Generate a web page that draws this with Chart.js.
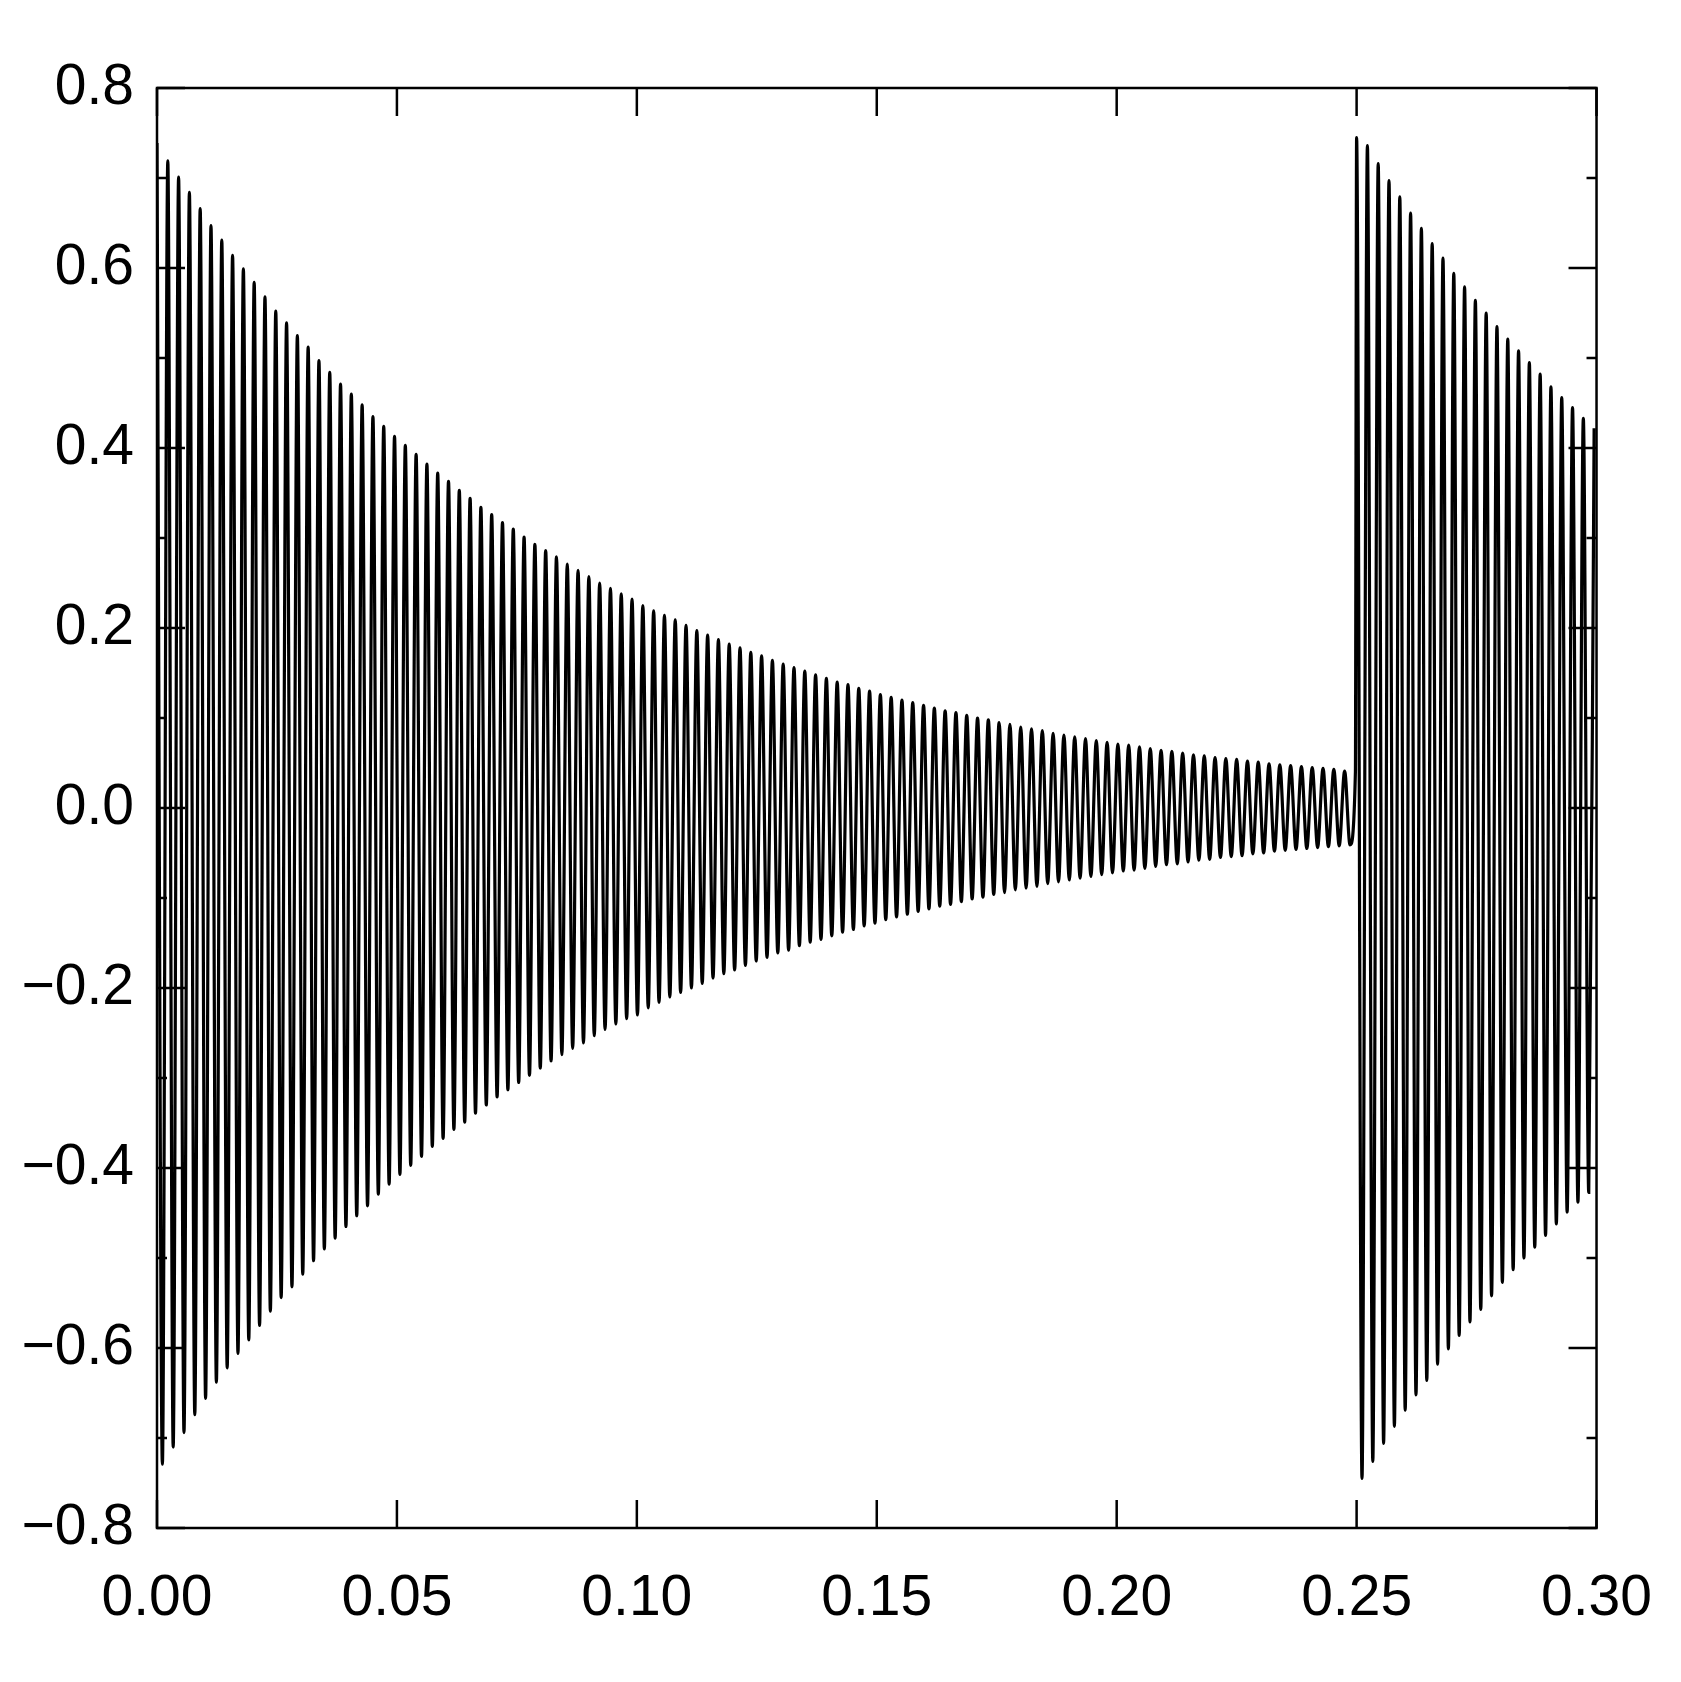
<!DOCTYPE html>
<html>
<head>
<meta charset="utf-8">
<script src="https://cdn.jsdelivr.net/npm/chart.js@4.4.1/dist/chart.umd.min.js"></script>
<style>
  html, body { margin: 0; padding: 0; background: #fff; }
  #wrap { width: 1681px; height: 1682px; position: relative; }
</style>
</head>
<body>
<div id="wrap"><canvas id="waveChart"></canvas></div>
<script>
// peak / trough values, one per cycle
const period = 0.00225; // seconds per cycle (about 444 Hz)
const seg1Start = 0;
const seg2Start = 0.25;

const peaks1 = [
  0.739, 0.719, 0.701, 0.684, 0.666, 0.647, 0.631, 0.614, 0.599, 0.584,
  0.568, 0.552, 0.539, 0.525, 0.512, 0.497, 0.484, 0.471, 0.460, 0.448,
  0.435, 0.424, 0.413, 0.403, 0.393, 0.382, 0.372, 0.363, 0.353, 0.344,
  0.334, 0.326, 0.317, 0.310, 0.301, 0.293, 0.286, 0.279, 0.271, 0.264,
  0.257, 0.250, 0.244, 0.238, 0.232, 0.225, 0.219, 0.214, 0.209, 0.203,
  0.197, 0.192, 0.187, 0.182, 0.178, 0.173, 0.169, 0.164, 0.160, 0.156,
  0.152, 0.148, 0.144, 0.140, 0.137, 0.133, 0.130, 0.126, 0.123, 0.120,
  0.117, 0.114, 0.111, 0.108, 0.106, 0.103, 0.100, 0.098, 0.095, 0.093,
  0.090, 0.088, 0.086, 0.083, 0.081, 0.079, 0.077, 0.075, 0.073, 0.071,
  0.070, 0.068, 0.066, 0.064, 0.063, 0.061, 0.059, 0.058, 0.056, 0.055,
  0.054, 0.052, 0.051, 0.049, 0.048, 0.047, 0.046, 0.045, 0.044, 0.043,
  0.041, 0.040
];
const troughs1 = [
  -0.729, -0.710, -0.694, -0.674, -0.656, -0.638, -0.622, -0.606, -0.591, -0.575,
  -0.559, -0.544, -0.532, -0.518, -0.503, -0.490, -0.478, -0.465, -0.453, -0.442,
  -0.429, -0.418, -0.407, -0.397, -0.387, -0.376, -0.367, -0.357, -0.349, -0.339,
  -0.330, -0.321, -0.313, -0.305, -0.297, -0.289, -0.281, -0.274, -0.267, -0.261,
  -0.253, -0.246, -0.240, -0.234, -0.230, -0.222, -0.216, -0.210, -0.205, -0.200,
  -0.195, -0.189, -0.184, -0.180, -0.175, -0.170, -0.166, -0.161, -0.158, -0.153,
  -0.149, -0.146, -0.142, -0.138, -0.135, -0.131, -0.128, -0.124, -0.121, -0.118,
  -0.115, -0.112, -0.109, -0.107, -0.104, -0.101, -0.099, -0.096, -0.094, -0.091,
  -0.089, -0.087, -0.084, -0.082, -0.080, -0.078, -0.076, -0.074, -0.072, -0.070,
  -0.069, -0.067, -0.065, -0.063, -0.062, -0.060, -0.058, -0.057, -0.055, -0.054,
  -0.053, -0.051, -0.050, -0.048, -0.047, -0.046, -0.045, -0.044, -0.043, -0.042,
  -0.041
];
const peaks2 = [
  0.745, 0.736, 0.716, 0.697, 0.679, 0.661, 0.644, 0.627, 0.611, 0.594,
  0.579, 0.564, 0.550, 0.535, 0.521, 0.508, 0.495, 0.482, 0.468, 0.456,
  0.445, 0.433, 0.422
];
const troughs2 = [
  -0.745, -0.726, -0.706, -0.687, -0.669, -0.652, -0.636, -0.618, -0.601, -0.586,
  -0.571, -0.557, -0.542, -0.527, -0.513, -0.500, -0.488, -0.475, -0.462, -0.449,
  -0.438, -0.427
];

const xTicks = [0, 0.05, 0.10, 0.15, 0.20, 0.25, 0.30];
const yMajorTicks = [-0.8, -0.6, -0.4, -0.2, 0, 0.2, 0.4, 0.6, 0.8];
const yMinorTicks = [-0.7, -0.5, -0.3, -0.1, 0.1, 0.3, 0.5, 0.7];

function buildSegment(start, peaks, troughs) {
  const pts = [];
  for (let k = 0; k < peaks.length; k++) {
    pts.push({ x: start + k * period, y: peaks[k] });
    if (k < troughs.length) {
      pts.push({ x: start + (k + 0.5) * period, y: troughs[k] });
    }
  }
  return pts;
}

const wavePoints = buildSegment(seg1Start, peaks1, troughs1)
  .concat(buildSegment(seg2Start, peaks2, troughs2));

function fmt(v, digits) {
  if (Math.abs(v) < 1e-9) v = 0;
  const s = Math.abs(v).toFixed(digits);
  return v < 0 ? "\u2212" + s : s;
}

// frame plus inward tick marks on all four sides
const framePlugin = {
  id: "frame",
  afterDraw(chart) {
    const ctx = chart.ctx;
    const a = chart.chartArea;
    const xs = chart.scales.x;
    const ys = chart.scales.y;
    ctx.save();
    ctx.strokeStyle = "#000";
    ctx.lineWidth = 2.5;
    ctx.strokeRect(a.left, a.top, a.right - a.left, a.bottom - a.top);
    ctx.beginPath();
    xTicks.forEach((v) => {
      const px = xs.getPixelForValue(v);
      ctx.moveTo(px, a.bottom); ctx.lineTo(px, a.bottom - 28);
      ctx.moveTo(px, a.top); ctx.lineTo(px, a.top + 28);
    });
    yMajorTicks.forEach((v) => {
      const py = ys.getPixelForValue(v);
      ctx.moveTo(a.left, py); ctx.lineTo(a.left + 28, py);
      ctx.moveTo(a.right, py); ctx.lineTo(a.right - 28, py);
    });
    yMinorTicks.forEach((v) => {
      const py = ys.getPixelForValue(v);
      ctx.moveTo(a.left, py); ctx.lineTo(a.left + 10, py);
      ctx.moveTo(a.right, py); ctx.lineTo(a.right - 10, py);
    });
    ctx.stroke();
    ctx.restore();
  }
};

const ctx = document.getElementById("waveChart").getContext("2d");
new Chart(ctx, {
  type: "line",
  data: {
    datasets: [
      {
        data: wavePoints,
        borderColor: "#000",
        borderWidth: 3.2,
        pointRadius: 0,
        fill: false,
        cubicInterpolationMode: "monotone"
      }
    ]
  },
  options: {
    responsive: true,
    maintainAspectRatio: false,
    animation: false,
    events: [],
    layout: { padding: { top: 88, right: 84, left: 0, bottom: 0 } },
    plugins: { legend: { display: false }, tooltip: { enabled: false } },
    scales: {
      x: {
        type: "linear",
        min: 0,
        max: 0.3,
        grid: { display: false },
        border: { display: false },
        afterBuildTicks: (scale) => { scale.ticks = xTicks.map((v) => ({ value: v })); },
        afterFit: (scale) => { scale.height = 154; },
        ticks: {
          autoSkip: false,
          maxRotation: 0,
          padding: 29,
          color: "#000",
          font: { family: "'Liberation Sans', Arial, sans-serif", size: 57 },
          callback: (v) => fmt(v, 2)
        }
      },
      y: {
        type: "linear",
        min: -0.8,
        max: 0.8,
        grid: { display: false },
        border: { display: false },
        afterBuildTicks: (scale) => { scale.ticks = yMajorTicks.map((v) => ({ value: v })); },
        afterFit: (scale) => { scale.width = 157; },
        ticks: {
          autoSkip: false,
          padding: 15,
          color: "#000",
          font: { family: "'Liberation Sans', Arial, sans-serif", size: 57 },
          callback: (v) => fmt(v, 1)
        }
      }
    }
  },
  plugins: [framePlugin]
});
</script>
</body>
</html>
